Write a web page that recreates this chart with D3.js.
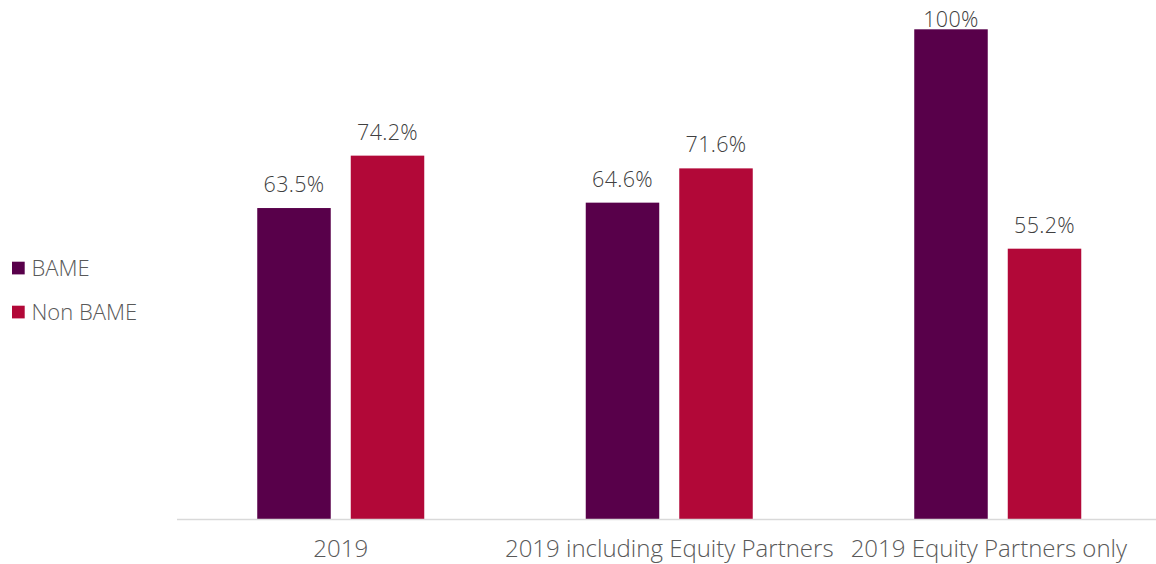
<!DOCTYPE html>
<html>
<head>
<meta charset="utf-8">
<script src="https://cdn.jsdelivr.net/npm/d3@7"></script>
<style>
  body { margin: 0; background: #fff; }
  text { font-family: "Open Sans", "Noto Sans", sans-serif; font-weight: 300; }
</style>
</head>
<body>
<div id="chart"></div>
<script>
const categories = ['2019', '2019 including Equity Partners', '2019 Equity Partners only'];
const seriesNames = ['BAME', 'Non BAME'];
const bameValues = [63.5, 64.6, 100];
const nonBameValues = [74.2, 71.6, 55.2];
const valueLabels = [['63.5%', '64.6%', '100%'], ['74.2%', '71.6%', '55.2%']];
const colors = ['#58004a', '#b20838'];

const width = 1156, height = 564;
const baseline = 519, plotTop = 29.3;

const svg = d3.select('#chart').append('svg')
    .attr('width', width)
    .attr('height', height);

const x0 = d3.scaleBand().domain(categories)
    .range([176.5, 1162]).paddingInner(0.4916).paddingOuter(0.2458);
const x1 = d3.scaleBand().domain(seriesNames)
    .range([0, x0.bandwidth()]).paddingInner(0.214).paddingOuter(0);
const y = d3.scaleLinear().domain([0, 100]).range([baseline, plotTop]);

const rows = categories.map((c, i) => ({
    cat: c,
    vals: [
        { s: seriesNames[0], v: bameValues[i], label: valueLabels[0][i] },
        { s: seriesNames[1], v: nonBameValues[i], label: valueLabels[1][i] }
    ]
}));

const groups = svg.append('g').selectAll('g')
    .data(rows)
    .enter().append('g')
    .attr('transform', d => `translate(${x0(d.cat)},0)`);

groups.selectAll('rect')
    .data(d => d.vals)
    .enter().append('rect')
    .attr('x', d => x1(d.s))
    .attr('y', d => y(d.v))
    .attr('width', x1.bandwidth())
    .attr('height', d => y(0) - y(d.v))
    .attr('fill', (d, i) => colors[i]);

groups.selectAll('text')
    .data(d => d.vals)
    .enter().append('text')
    .attr('x', d => x1(d.s) + x1.bandwidth() / 2)
    .attr('y', d => Math.max(y(d.v) - 16, 26.5))
    .attr('text-anchor', 'middle')
    .attr('font-size', 21.5)
    .attr('letter-spacing', 0.3)
    .attr('fill', '#404040')
    .text(d => d.label);

// x axis
const xAxis = svg.append('g')
    .attr('transform', `translate(0,${baseline})`)
    .call(d3.axisBottom(x0).tickSize(0).tickPadding(21));
xAxis.select('.domain').attr('stroke', '#d9d9d9').attr('stroke-width', 1.5);
xAxis.selectAll('text')
    .attr('font-size', 24)
    .attr('fill', '#595959')
    .style('font-family', '"Open Sans", "Noto Sans", sans-serif')
    .style('font-weight', 300)
    .each(function() {
        // keep labels inside the right edge, as the original does
        const len = this.getComputedTextLength();
        const cx = +d3.select(this.parentNode).attr('transform').match(/translate\(([-\d.]+)/)[1];
        const over = cx + len / 2 - (width - 29);
        if (over > 0) d3.select(this).attr('dx', -over);
    });

// legend
const legend = svg.append('g').selectAll('g')
    .data(seriesNames)
    .enter().append('g')
    .attr('transform', (d, i) => `translate(12,${261.7 + i * 44})`);
legend.append('rect')
    .attr('width', 12.7).attr('height', 12.7)
    .attr('fill', (d, i) => colors[i]);
legend.append('text')
    .attr('x', 19.5).attr('y', 14.5)
    .attr('font-size', 22)
    .attr('fill', '#595959')
    .text(d => d);
</script>
</body>
</html>
